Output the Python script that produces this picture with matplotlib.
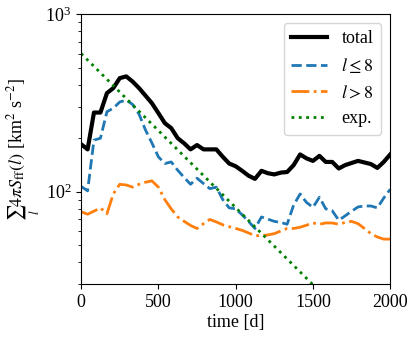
import numpy as np
import matplotlib
matplotlib.use("Agg")
import matplotlib.pyplot as plt

plt.rcParams["font.family"] = "serif"
plt.rcParams["font.serif"] = ["Liberation Serif", "DejaVu Serif"]
plt.rcParams["mathtext.fontset"] = "stix"

# temps (jours), un point tous les ~42 j
t = [0, 42, 83, 125, 167, 208, 250, 292, 333, 375, 417, 458, 500, 542, 583, 625,
     667, 708, 750, 792, 833, 875, 917, 958, 1000, 1042, 1083, 1125, 1167, 1208,
     1250, 1292, 1333, 1375, 1417, 1458, 1500, 1542, 1583, 1625, 1667, 1708,
     1750, 1792, 1833, 1875, 1917, 1958, 2000]

S_tot = [185, 173, 279, 279, 359, 383, 436, 446, 417, 383, 347, 315, 277, 243,
         228, 200, 187, 173, 183, 173, 173, 173, 157, 144, 139, 131, 123, 118,
         131, 127, 125, 128, 129, 141, 162, 154, 149, 159, 147, 147, 135, 141,
         145, 149, 146, 143, 136, 147, 162]

S_low = [107, 101, 195, 200, 282, 295, 320, 328, 310, 273, 222, 188, 157, 144,
         147, 132, 120, 110, 119, 111, 104, 106, 90, 81, 80, 74, 68, 62, 72, 70,
         68, 67, 65.5, 84, 97, 87, 81.5, 93, 80, 78, 69, 73, 77.5, 82, 83, 83,
         81, 92, 103]

S_high = [77, 74.6, 77.6, 81, 75, 97, 110, 109, 106, 110, 113, 115, 106, 90, 80,
          72, 68, 64.5, 62, 66, 69.7, 67.5, 65, 63.5, 62, 60.5, 58.5, 56.5, 56.5,
          57, 58, 60, 62, 62, 63, 64.7, 66.6, 65.5, 66.6, 66.6, 65.5, 67, 68, 66,
          62, 58, 55.5, 54, 54]

# ajustement exponentiel : droite en echelle log entre deux points
t_exp = [0, 2000]
S_exp = [600, 11]

fig = plt.figure(figsize=(4.16, 3.37), dpi=100)
ax = fig.add_axes([0.195, 0.156, 0.743, 0.802])

ax.plot(t, S_tot, color="black", lw=3, label="total")
ax.plot(t, S_low, color="tab:blue", lw=2, ls="--", label=r"$l \leq 8$")
ax.plot(t, S_high, color="tab:orange", lw=2, ls="-.", label=r"$l > 8$")
ax.plot(t_exp, S_exp, color="green", lw=2, ls=":", label="exp.")

ax.set_yscale("log")
ax.set_xlim(0, 2000)
ax.set_ylim(30, 1000)
ax.set_xlabel("time [d]", fontsize=13, labelpad=2)
ax.set_ylabel(r"$\sum_l 4\pi S_{\rm ff}(l)$ [km$^2$ s$^{-2}$]", fontsize=13, labelpad=2)
ax.tick_params(labelsize=13)
ax.legend(loc="upper right", fontsize=13)

fig.savefig("out.png", dpi=100)
